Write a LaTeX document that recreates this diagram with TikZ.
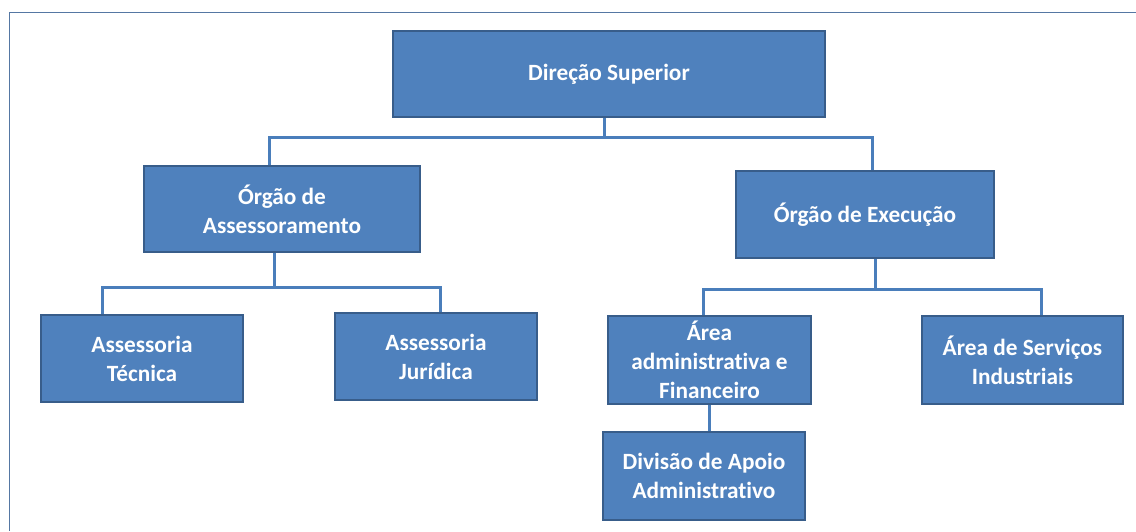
\documentclass[tikz,border=0pt]{standalone}
\usepackage{fontspec}
\setmainfont[Ligatures=NoCommon]{Carlito}
\definecolor{boxfill}{HTML}{4F81BD}
\definecolor{boxline}{HTML}{385D8A}
\definecolor{conn}{HTML}{4A7EBB}
\definecolor{frame}{HTML}{5577A3}
\begin{document}
\begin{tikzpicture}[x=1pt,y=-1pt,
  orgbox/.style={draw=boxline, line width=2.2pt, fill=boxfill, text=white,
    font=\fontsize{23.3}{29}\selectfont\bfseries, align=center,
    inner sep=0pt, minimum width=#1},
  orgbox/.default=202pt,
  link/.style={draw=conn, line width=3pt}]
\useasboundingbox (0,0) rectangle (1136,531);
\draw[frame, line width=1pt] (1136,12) -- (9,12) -- (9,531);
\node[orgbox=432pt, minimum height=86pt] (dir) at (609,74) {Direção Superior};
\node[orgbox=276pt, minimum height=86pt] (ass) at (282,209) {Órgão de\\Assessoramento};
\node[orgbox=258pt, minimum height=87pt] (exe) at (865,214.5) {Órgão de Execução};
\node[orgbox, minimum height=87pt] (tec) at (142,358.5) {Assessoria\\Técnica};
\node[orgbox, minimum height=87pt] (jur) at (436,356.5) {Assessoria\\Jurídica};
\node[orgbox=203pt, minimum height=88pt] (adm) at (709.5,360) {Área\\administrativa e\\Financeiro};
\node[orgbox=201pt, minimum height=88pt] (ind) at (1022.5,360) {Área de Serviços\\Industriais};
\node[orgbox, minimum height=88pt] (div) at (704,476) {Divisão de Apoio\\Administrativo};
% connectors
\coordinate (t0) at (604,137);
\draw[link] (dir.south -| t0) -- (t0);
\draw[link] (ass.north -| 269,0) |- (t0) -| (exe.north -| 872,0);
\coordinate (a0) at (274,287);
\draw[link] (ass.south -| a0) -- (a0);
\draw[link] (tec.north -| 102,0) |- (a0) -| (jur.north -| 440,0);
\coordinate (e0) at (875,289);
\draw[link] (exe.south -| e0) -- (e0);
\draw[link] (adm.north -| 703,0) |- (e0) -| (ind.north -| 1041,0);
\draw[link] (adm.south -| 709,0) -- (div.north -| 709,0);
\end{tikzpicture}
\end{document}
